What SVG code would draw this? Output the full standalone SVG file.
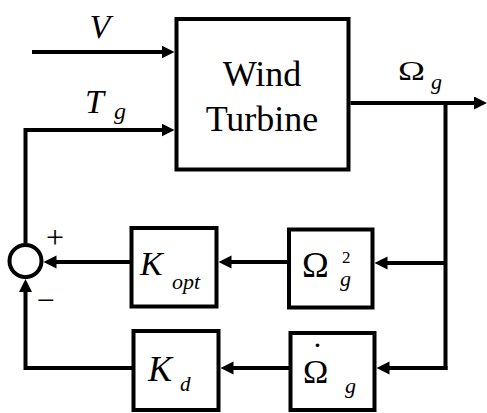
<svg xmlns="http://www.w3.org/2000/svg" width="487" height="413" viewBox="0 0 487 413">
<defs>
<marker id="ah" markerUnits="userSpaceOnUse" markerWidth="14" markerHeight="14" refX="8" refY="6.5" orient="auto">
<path d="M0,0 L13,6.5 L0,13 z" fill="#000"/>
</marker>
<style>
.box{fill:#fff;stroke:#000;stroke-width:4}
.ln{fill:none;stroke:#000;stroke-width:4}
text{fill:#000;font-family:'Liberation Serif','Times New Roman',Tinos,'DejaVu Serif',serif}
.i{font-style:italic}
</style>
</defs>
<rect width="487" height="413" fill="#fff"/>
<g id="connectors">
<path class="ln" d="M32,52 H169.5" marker-end="url(#ah)"/>
<path class="ln" d="M25.5,243 V130 H169.5" marker-end="url(#ah)"/>
<path class="ln" d="M350.5,103 H482" marker-end="url(#ah)"/>
<path class="ln" d="M445.5,103 V370"/>
<path class="ln" d="M445.5,263 H379.5" marker-end="url(#ah)"/>
<path class="ln" d="M447.5,368 H381.5" marker-end="url(#ah)"/>
<path class="ln" d="M289,262 H223.5" marker-end="url(#ah)"/>
<path class="ln" d="M290.5,368 H225.5" marker-end="url(#ah)"/>
<path class="ln" d="M131.5,262 H48.5" marker-end="url(#ah)"/>
<path class="ln" d="M133.5,368 H25.5 V284" marker-end="url(#ah)"/>
</g>
<g id="labels">
<text class="i" x="100" y="38" font-size="34" text-anchor="middle">V</text>
<text class="i" x="85" y="113" font-size="34">T</text>
<text class="i" x="114" y="119" font-size="24">g</text>
<text x="398" y="80" font-size="28" textLength="27" lengthAdjust="spacingAndGlyphs">Ω</text>
<text class="i" x="431" y="89" font-size="22">g</text>
<text x="55" y="248" font-size="32" text-anchor="middle">+</text>
<text x="45.5" y="311" font-size="32" text-anchor="middle">−</text>
</g>
<g id="turbine">
<rect class="box" x="176.5" y="19" width="172" height="150.5"/>
<text x="262" y="86" font-size="36" text-anchor="middle">Wind</text>
<text x="262" y="131" font-size="36" text-anchor="middle">Turbine</text>
</g>
<g id="sum">
<circle cx="25.5" cy="261" r="16" fill="#fff" stroke="#000" stroke-width="4"/>
</g>
<g id="kopt">
<rect class="box" x="131.5" y="228" width="85" height="78.5"/>
<text class="i" x="140" y="275" font-size="34">K</text>
<text class="i" x="172" y="289" font-size="22">opt</text>
</g>
<g id="kd">
<rect class="box" x="133.5" y="331" width="85" height="79"/>
<text class="i" x="148" y="381" font-size="36">K</text>
<text class="i" x="180" y="391" font-size="21">d</text>
</g>
<g id="omega2">
<rect class="box" x="289" y="229.5" width="83.5" height="78"/>
<text x="302" y="277" font-size="36">Ω</text>
<text x="342" y="263" font-size="17">2</text>
<text class="i" x="340" y="286" font-size="22">g</text>
</g>
<g id="omegadot">
<rect class="box" x="290.5" y="333" width="84" height="77"/>
<text x="303" y="383" font-size="34">Ω</text>
<text x="317.5" y="366" font-size="34" text-anchor="middle">˙</text>
<text class="i" x="345" y="393" font-size="22">g</text>
</g>
</svg>
